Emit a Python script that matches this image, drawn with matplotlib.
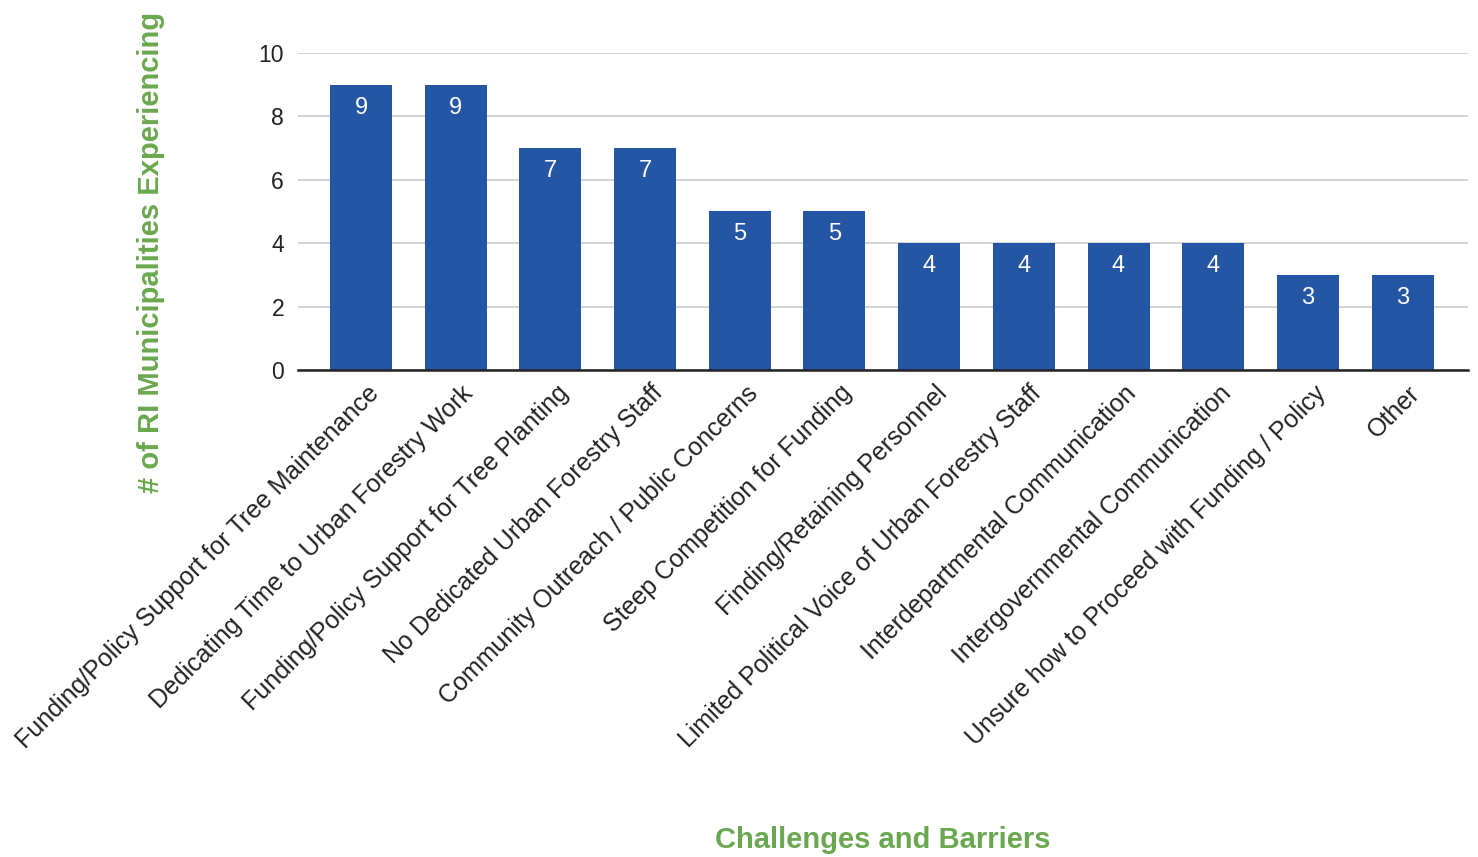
import matplotlib.pyplot as plt
from matplotlib.transforms import ScaledTranslation

plt.rcParams['font.family'] = ['Liberation Sans', 'DejaVu Sans']

categories = [
    "Funding/Policy Support for Tree Maintenance",
    "Dedicating Time to Urban Forestry Work",
    "Funding/Policy Support for Tree Planting",
    "No Dedicated Urban Forestry Staff",
    "Community Outreach / Public Concerns",
    "Steep Competition for Funding",
    "Finding/Retaining Personnel",
    "Limited Political Voice of Urban Forestry Staff",
    "Interdepartmental Communication",
    "Intergovernmental Communication",
    "Unsure how to Proceed with Funding / Policy",
    "Other",
]
counts = [9, 9, 7, 7, 5, 5, 4, 4, 4, 4, 3, 3]

green = '#6aa84f'
blue = '#2556a4'

fig = plt.figure(figsize=(14.78, 8.57), dpi=100)
ax = fig.add_axes([0.2016, 0.5683, 0.7916, 0.3699])

x = list(range(len(categories)))
bars = ax.bar(x, counts, width=0.655, color=blue, zorder=3)
# value labels inside the top of each bar
for xi, c in zip(x, counts):
    ax.annotate(str(c), (xi, c), xytext=(0, -16.5), textcoords='offset points',
                ha='center', va='center', color='white', fontsize=17, zorder=4)

ax.set_ylim(0, 10)
ax.set_xlim(-0.665, len(categories) - 0.31)
ax.set_yticks([0, 2, 4, 6, 8, 10])
ax.yaxis.grid(True, color='#cccccc', linewidth=1.2, zorder=0)
ax.set_axisbelow(True)
for s in ['top', 'right', 'left']:
    ax.spines[s].set_visible(False)
ax.spines['bottom'].set_color('#222222')
ax.spines['bottom'].set_linewidth(1.8)
ax.spines['bottom'].set_zorder(5)
ax.tick_params(axis='y', length=0, labelsize=16.5, colors='#222222', pad=10)
ax.tick_params(axis='x', length=0, pad=14)

ax.set_xticks(x)
ax.set_xticklabels(categories, rotation=45, ha='right', va='center',
                   rotation_mode='anchor', fontsize=18, color='#222222')
# nudge the rotated labels a little to the right
shift = ScaledTranslation(14 / 100, 0, fig.dpi_scale_trans)
for lab in ax.get_xticklabels():
    lab.set_transform(lab.get_transform() + shift)

fig.text(0.102, 0.705, '# of RI Municipalities Experiencing', rotation=90,
         ha='center', va='center', color=green, fontsize=21, fontweight='bold')
fig.text(0.597, 0.020, 'Challenges and Barriers', ha='center', va='center',
         color=green, fontsize=21, fontweight='bold')

fig.savefig('out.png', dpi=100)
